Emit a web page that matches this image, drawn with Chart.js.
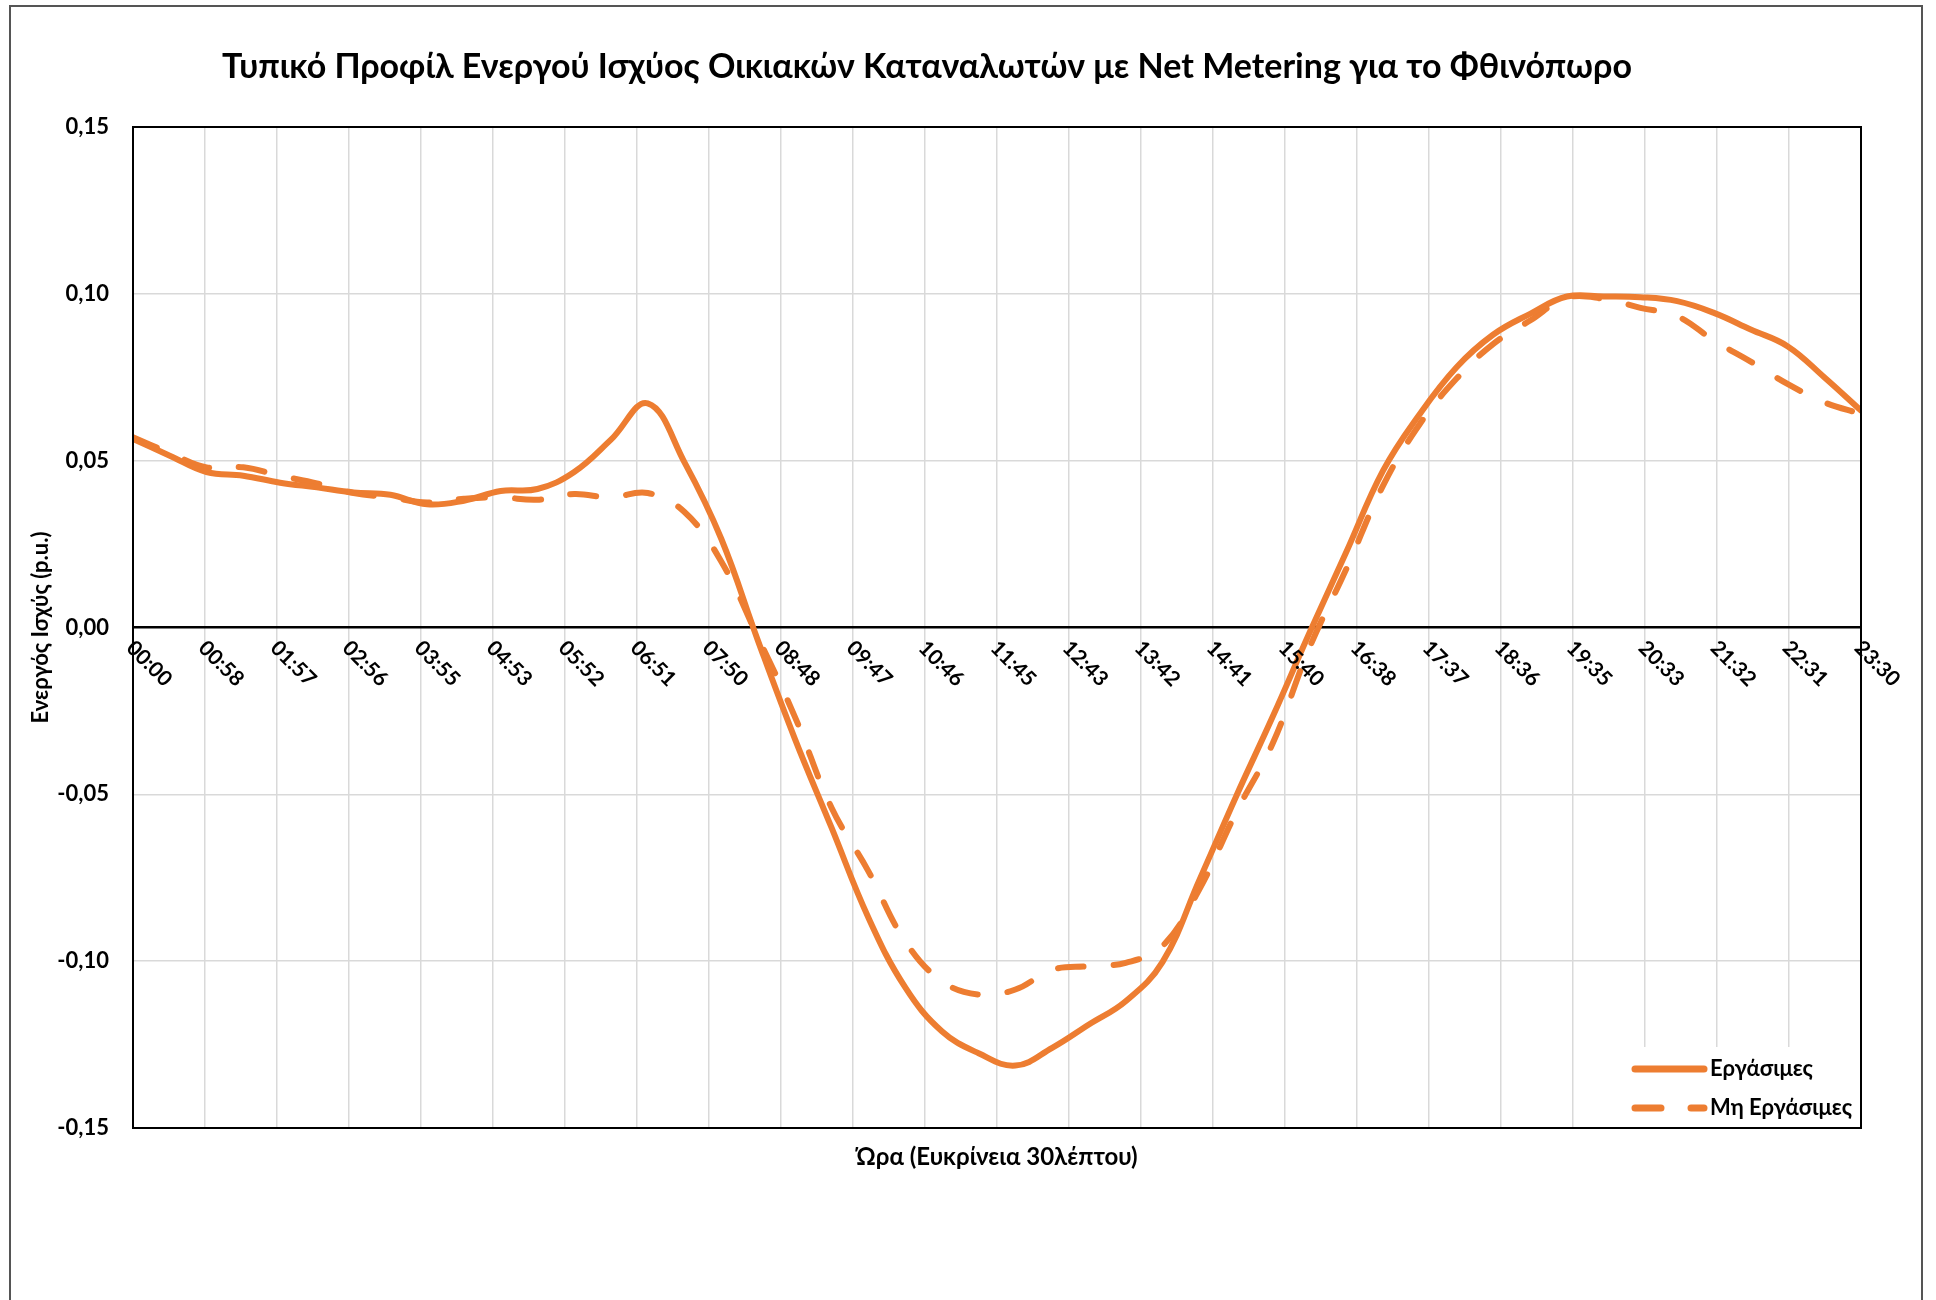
<!DOCTYPE html>
<html>
<head>
<meta charset="utf-8">
<script src="https://cdn.jsdelivr.net/npm/chart.js@4.4.0/dist/chart.umd.min.js"></script>
<style>
    body { margin: 0; background: #fff; }
</style>
</head>
<body>
<canvas id="lineChart" width="1936" height="1300"></canvas>
<script>
// ώρες (ανάλυση 30 λεπτών)
let times = [
    "00:00", "00:30", "01:00", "01:30", "02:00", "02:30", "03:00", "03:30",
    "04:00", "04:30", "05:00", "05:30", "06:00", "06:30", "07:00", "07:30",
    "08:00", "08:30", "09:00", "09:30", "10:00", "10:30", "11:00", "11:30",
    "12:00", "12:30", "13:00", "13:30", "14:00", "14:30", "15:00", "15:30",
    "16:00", "16:30", "17:00", "17:30", "18:00", "18:30", "19:00", "19:30",
    "20:00", "20:30", "21:00", "21:30", "22:00", "22:30", "23:00", "23:30"
];

let ergasimes = [
    0.0565, 0.0515, 0.0466, 0.0455, 0.0434, 0.0420, 0.0405, 0.0398,
    0.0369, 0.0380, 0.0409, 0.0415, 0.0466, 0.0563, 0.0672, 0.0495,
    0.0266, -0.0040, -0.0333, -0.0600, -0.0869, -0.1078, -0.1210, -0.1276,
    -0.1313, -0.1260, -0.1190, -0.1120, -0.1003, -0.0758, -0.0507, -0.0267,
    -0.0016, 0.0226, 0.0470, 0.0640, 0.0780, 0.0878, 0.0940, 0.0992,
    0.0992, 0.0990, 0.0978, 0.0943, 0.0893, 0.0843, 0.0750, 0.0650
];

let miErgasimes = [
    0.0570, 0.0523, 0.0480, 0.0480, 0.0455, 0.0432, 0.0403, 0.0390,
    0.0375, 0.0386, 0.0390, 0.0383, 0.0400, 0.0390, 0.0403, 0.0346,
    0.0198, -0.0030, -0.0267, -0.0540, -0.0730, -0.0940, -0.1060, -0.1100,
    -0.1085, -0.1026, -0.1015, -0.1005, -0.0955, -0.0785, -0.0555, -0.0347,
    -0.0060, 0.0175, 0.0425, 0.0610, 0.0746, 0.0850, 0.0920, 0.0988,
    0.0985, 0.0958, 0.0933, 0.0860, 0.0797, 0.0730, 0.0675, 0.0640
];

let tickLabels = [
    "00:00", "00:58", "01:57", "02:56", "03:55", "04:53", "05:52", "06:51",
    "07:50", "08:48", "09:47", "10:46", "11:45", "12:43", "13:42", "14:41",
    "15:40", "16:38", "17:37", "18:36", "19:35", "20:33", "21:32", "22:31", "23:30"
];

let yTicks = [-0.15, -0.10, -0.05, 0, 0.05, 0.10, 0.15];

const orange = "#ED7D31";
const fontFam = "Lato, 'Open Sans', sans-serif";

function toHours(t) {
    let p = t.split(":");
    return Number(p[0]) + Number(p[1]) / 60;
}

function points(values) {
    return times.map((t, i) => ({ x: toHours(t), y: values[i] }));
}

function fmt(v) {
    return Number(v).toFixed(2).replace(".", ",").replace("-0,00", "0,00");
}

// πλαίσιο, τίτλος, ετικέτες άξονα x, υπόμνημα
const extras = {
    id: "extras",
    beforeDraw(chart) {
        let ctx = chart.ctx;
        ctx.save();
        ctx.fillStyle = "#fff";
        ctx.fillRect(0, 0, chart.width, chart.height);
        ctx.strokeStyle = "#555";
        ctx.lineWidth = 2;
        ctx.strokeRect(10, 6, 1912, 1400);
        ctx.restore();
    },
    afterDraw(chart) {
        let ctx = chart.ctx;
        let xs = chart.scales.x;
        let ys = chart.scales.y;
        let area = chart.chartArea;
        ctx.save();

        // τίτλος
        ctx.fillStyle = "#000";
        ctx.font = "bold 34px " + fontFam;
        ctx.textAlign = "center";
        ctx.textBaseline = "middle";
        ctx.fillText("Τυπικό Προφίλ Ενεργού Ισχύος Οικιακών Καταναλωτών με Net Metering για το Φθινόπωρο", 927, 67);

        // ετικέτες χρόνου πάνω στη γραμμή του μηδενός
        let y0 = ys.getPixelForValue(0);
        ctx.font = "bold 21px " + fontFam;
        ctx.textAlign = "left";
        ctx.textBaseline = "middle";
        tickLabels.forEach((lab, i) => {
            let x = xs.getPixelForValue(i * 23.5 / 24);
            ctx.save();
            ctx.translate(x - 3, y0 + 17);
            ctx.rotate(Math.PI / 4);
            ctx.fillText(lab, 0, 0);
            ctx.restore();
        });

        // υπόμνημα
        let lx = 1627, ly = 1047;
        ctx.fillStyle = "#fff";
        ctx.fillRect(lx, ly, area.right - lx, area.bottom - ly);
        chart.data.datasets.forEach((ds, i) => {
            let yy = ly + 22 + i * 39;
            ctx.strokeStyle = ds.borderColor;
            ctx.lineWidth = 7;
            ctx.lineCap = "round";
            ctx.setLineDash(ds.borderDash || []);
            ctx.beginPath();
            ctx.moveTo(lx + 8, yy);
            ctx.lineTo(lx + 77, yy);
            ctx.stroke();
            ctx.setLineDash([]);
            ctx.fillStyle = "#000";
            ctx.font = "bold 22px " + fontFam;
            ctx.textAlign = "left";
            ctx.textBaseline = "middle";
            ctx.fillText(ds.label, lx + 83, yy);
        });

        // περίγραμμα περιοχής σχεδίασης
        ctx.strokeStyle = "#000";
        ctx.lineWidth = 2;
        ctx.lineCap = "butt";
        ctx.strokeRect(area.left, area.top, area.right - area.left, area.bottom - area.top);
        ctx.restore();
    }
};

let ctx = document.getElementById("lineChart").getContext("2d");
let myChart = new Chart(ctx, {
    type: "line",
    data: {
        datasets: [
            {
                label: "Εργάσιμες",
                data: points(ergasimes),
                borderColor: orange,
                borderWidth: 6,
                borderCapStyle: "round",
                borderJoinStyle: "round",
                pointRadius: 0,
                tension: 0.4,
            },
            {
                label: "Μη Εργάσιμες",
                data: points(miErgasimes),
                borderColor: orange,
                borderWidth: 6,
                borderDash: [26, 30],
                borderCapStyle: "round",
                borderJoinStyle: "round",
                pointRadius: 0,
                tension: 0.4,
            },
        ],
    },
    options: {
        responsive: false,
        animation: false,
        layout: { padding: { top: 127, left: 24, right: 75, bottom: 124 } },
        plugins: {
            legend: { display: false },
            title: { display: false },
            tooltip: { enabled: false },
        },
        scales: {
            x: {
                type: "linear",
                min: 0,
                max: 23.5,
                afterBuildTicks: (s) => {
                    s.ticks = tickLabels.map((t, i) => ({ value: i * 23.5 / 24 }));
                },
                afterFit: (s) => { s.height = 48; },
                ticks: { display: false },
                grid: { color: "#d9d9d9", lineWidth: 1.5, drawTicks: false },
                border: { color: "#000", width: 2 },
                title: {
                    display: true,
                    text: "Ώρα (Ευκρίνεια 30λέπτου)",
                    color: "#000",
                    font: { family: fontFam, size: 24, weight: "bold" },
                    padding: { top: 0, bottom: 4 },
                },
            },
            y: {
                min: -0.15,
                max: 0.15,
                afterBuildTicks: (s) => {
                    s.ticks = yTicks.map((v) => ({ value: v }));
                },
                afterFit: (s) => { s.width = 109; },
                ticks: {
                    callback: (v) => fmt(v),
                    color: "#000",
                    padding: 24,
                    font: { family: fontFam, size: 22, weight: "bold" },
                },
                grid: {
                    drawTicks: false,
                    color: (c) => Math.abs(c.tick.value) < 1e-9 ? "#000" : "#d9d9d9",
                    lineWidth: (c) => Math.abs(c.tick.value) < 1e-9 ? 2.5 : 1.5,
                },
                border: { color: "#000", width: 2 },
                title: {
                    display: true,
                    text: "Ενεργός Ισχύς (p.u.)",
                    color: "#000",
                    font: { family: fontFam, size: 22, weight: "bold" },
                    padding: { top: 4, bottom: 4 },
                },
            },
        },
    },
    plugins: [extras],
});
</script>
</body>
</html>
